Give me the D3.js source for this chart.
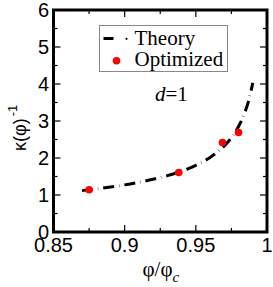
<!DOCTYPE html>
<html><head><meta charset="utf-8">
<script src="https://cdn.jsdelivr.net/npm/d3@7"></script>
<style>body{margin:0;background:#fff}svg{display:block}</style>
</head><body>
<svg id="c" width="273" height="287"></svg>
<script>
const theoryX = [0.87,0.88,0.89,0.90,0.91,0.92,0.93,0.94,0.95,0.96,0.965,0.97,0.975,0.98,0.9825,0.985,0.9875,0.99];
const theoryY = [1.118,1.163,1.215,1.274,1.343,1.425,1.523,1.646,1.802,2.015,2.154,2.327,2.549,2.850,3.046,3.290,3.605,4.03];
const optX = [0.875,0.938,0.9687,0.980];
const optY = [1.14,1.61,2.42,2.69];
const xMajor = [0.85,0.9,0.95,1];
const xMinor = [0.875,0.925,0.975];
const yMajor = [0,1,2,3,4,5,6];
const yMinor = [0.5,1.5,2.5,3.5,4.5,5.5];
const xTickLabels = ["0.85","0.9","0.95","1"];
const yTickLabels = ["0","1","2","3","4","5","6"];

const svg = d3.select("#c");
const L=53.5, R=267, T=10, B=232;
const x = d3.scaleLinear().domain([0.85,1]).range([L,R]);
const y = d3.scaleLinear().domain([0,6]).range([B,T]);

const g = svg.append("g");
const tk = g.append("g").attr("stroke","#000").attr("stroke-width",1.2);
function xt(v,len){
  tk.append("line").attr("x1",x(v)).attr("x2",x(v)).attr("y1",B).attr("y2",B-len);
  tk.append("line").attr("x1",x(v)).attr("x2",x(v)).attr("y1",T).attr("y2",T+len);
}
function yt(v,len){
  tk.append("line").attr("y1",y(v)).attr("y2",y(v)).attr("x1",L).attr("x2",L+len);
  tk.append("line").attr("y1",y(v)).attr("y2",y(v)).attr("x1",R).attr("x2",R-len);
}
xMajor.forEach(v=>xt(v,7)); xMinor.forEach(v=>xt(v,4));
yMajor.forEach(v=>yt(v,7)); yMinor.forEach(v=>yt(v,4));

const lab = g.append("g").attr("font-family","Liberation Sans, Arial, sans-serif").attr("font-size",20).attr("fill","#000");
xMajor.forEach((v,i)=>lab.append("text").attr("x",x(v)).attr("y",252).attr("text-anchor","middle").text(xTickLabels[i]));
yMajor.forEach((v,i)=>lab.append("text").attr("x",49).attr("y",y(v)+7).attr("text-anchor","end").text(yTickLabels[i]));

const line = d3.line().x(d=>x(d[0])).y(d=>y(d[1])).curve(d3.curveMonotoneX);
const tdata = theoryX.map((v,i)=>[v,theoryY[i]]);
g.append("path").attr("d",line(tdata)).attr("fill","none").attr("stroke","#000")
  .attr("stroke-width",3).attr("stroke-dasharray","11,5,0.4,5");

g.selectAll("circle.o").data(optX.map((v,i)=>[v,optY[i]])).enter().append("circle")
  .attr("cx",d=>x(d[0])).attr("cy",d=>y(d[1])).attr("r",3.8).attr("fill","#f00");

g.append("rect").attr("x",L).attr("y",T).attr("width",R-L).attr("height",B-T)
  .attr("fill","none").attr("stroke","#000").attr("stroke-width",3);

const lg = g.append("g");
lg.append("rect").attr("x",99.5).attr("y",25.5).attr("width",128).attr("height",46)
  .attr("fill","#fff").attr("stroke","#888").attr("stroke-width",1);
lg.append("line").attr("x1",103.5).attr("x2",113.5).attr("y1",38.5).attr("y2",38.5).attr("stroke","#000").attr("stroke-width",3);
lg.append("circle").attr("cx",126.5).attr("cy",38.8).attr("r",1.1).attr("fill","#000");
lg.append("circle").attr("cx",116.5).attr("cy",60.7).attr("r",3.8).attr("fill","#f00");
const lt = lg.append("g").attr("font-family","Liberation Serif, Times New Roman, serif").attr("font-size",21);
lt.append("text").attr("x",134.5).attr("y",45).text("Theory");
lt.append("text").attr("x",134.5).attr("y",66).text("Optimized");

const dt = g.append("text").attr("x",155).attr("y",101).attr("font-family","Liberation Serif, Times New Roman, serif").attr("font-size",21);
dt.append("tspan").attr("font-style","italic").text("d");
dt.append("tspan").text("=1");

const xl = g.append("text").attr("x",142.5).attr("y",276).attr("font-family","Liberation Serif, Times New Roman, serif").attr("font-size",21);
xl.append("tspan").text("φ/φ");
xl.append("tspan").attr("font-style","italic").attr("font-size",15).attr("dy",6).text("c");

const yl = g.append("text").attr("transform","translate(26,151) rotate(-90)")
  .attr("font-family","Liberation Sans, Arial, sans-serif").attr("font-size",18);
yl.append("tspan").text("κ(φ)");
yl.append("tspan").attr("font-size",13).attr("dy",-9).attr("dx",2).text("-1");
</script>
</body></html>
